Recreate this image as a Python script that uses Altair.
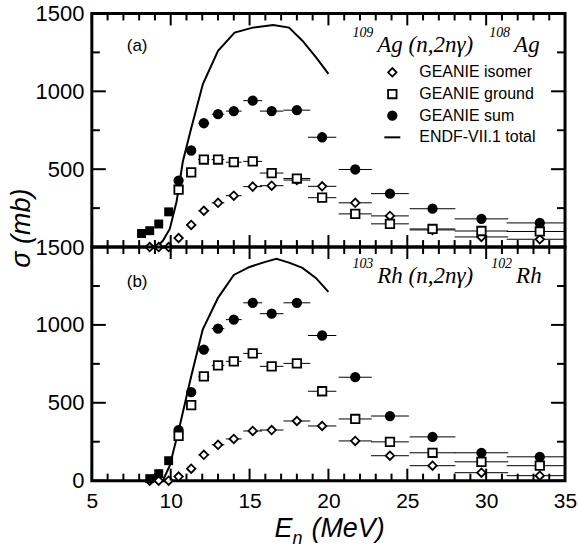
import altair as alt
import pandas as pd

# ---------------- data ----------------
# neutron energy bins (MeV): centres and half widths
energy = [10.5, 11.3, 12.1, 13.0, 14.0, 15.2, 16.4, 18.0, 19.6, 21.7, 23.9, 26.6, 29.7, 33.4]
half_width = [0.25, 0.3, 0.35, 0.4, 0.5, 0.6, 0.75, 0.85, 0.9, 1.05, 1.2, 1.45, 1.7, 2.1]

# 109Ag(n,2n gamma)108Ag partial cross sections (mb)
ag_isomer = [58, 142, 233, 284, 330, 388, 394, 430, 390, 284, 200, 110, 65, 50]
ag_ground = [368, 480, 562, 562, 545, 550, 475, 440, 317, 213, 149, 116, 103, 100]
ag_sum = [427, 620, 795, 853, 873, 940, 873, 879, 705, 498, 343, 246, 181, 155]
ag_low_energy = [8.15, 8.67, 9.24, 9.87]
ag_low_sigma = [87, 105, 148, 226]
ag_iso_low_energy = [8.67, 9.24, 9.87]
ag_iso_low_sigma = [0, 0, 0]
ag_endf_energy = [9.1, 9.5, 9.94, 10.37, 10.77, 11.3, 12.04, 13.0, 14.05, 15.2, 16.5, 17.5, 18.35, 19.24, 20.0]
ag_endf_sigma = [0, 40, 116, 291, 549, 763, 1047, 1260, 1377, 1409, 1425, 1409, 1325, 1215, 1112]

# 103Rh(n,2n gamma)102Rh partial cross sections (mb)
rh_isomer = [26, 77, 166, 230, 268, 319, 325, 383, 351, 255, 160, 96, 51, 32]
rh_ground = [287, 485, 670, 740, 766, 817, 734, 753, 574, 396, 249, 179, 121, 96]
rh_sum = [325, 568, 842, 976, 1034, 1142, 1072, 1142, 932, 664, 415, 281, 179, 153]
rh_low_energy = [8.67, 9.24, 9.87]
rh_low_sigma = [13, 45, 128]
rh_iso_low_energy = [8.67, 9.24, 9.87]
rh_iso_low_sigma = [0, 0, 0]
rh_endf_energy = [9.5, 9.94, 10.57, 11.3, 12.03, 13.0, 14.0, 15.0, 16.0, 16.7, 17.5, 18.35, 19.2, 20.0]
rh_endf_sigma = [0, 96, 351, 670, 970, 1174, 1321, 1372, 1405, 1425, 1400, 1366, 1302, 1212]

series_names = ["GEANIE isomer", "GEANIE ground", "GEANIE sum", "ENDF-VII.1 total"]

x_major_ticks = [5, 10, 15, 20, 25, 30, 35]
x_minor_ticks = [6, 7, 8, 9, 11, 12, 13, 14, 16, 17, 18, 19, 21, 22, 23, 24,
                 26, 27, 28, 29, 31, 32, 33, 34]
y_major_ticks = [0, 500, 1000, 1500]
y_minor_ticks = [250, 750, 1250]

# ---------------- layout ----------------
W = 474
H = 234
LEFT = 90   # room for the y labels and the sigma title
TOP = 11
SANS = "Liberation Sans"
SERIF = "Liberation Serif"
MARK_SIZE = 72

# marker style of each series
marker = {
    "GEANIE isomer": dict(shape="diamond", fill="white"),
    "GEANIE ground": dict(shape="square", fill="white"),
    "GEANIE sum": dict(shape="circle", fill="black"),
}

x_scale = alt.Scale(domain=[5, 35], nice=False, zero=False)
y_scale = alt.Scale(domain=[0, 1500], nice=False, zero=True)


def xenc(field, show_labels):
    if show_labels:
        ax = alt.Axis(title=None, values=x_major_ticks, ticks=False, tickSize=0, domain=False,
                      grid=False, labelFont=SANS, labelFontSize=21, labelColor="black",
                      labelPadding=10, labelFlush=False, format="d")
    else:
        ax = None
    return alt.X(field, type="quantitative", scale=x_scale, axis=ax)


def yenc(field, label_values):
    ax = alt.Axis(title=None, values=label_values, ticks=False, tickSize=0, domain=False,
                  grid=False, labelFont=SANS, labelFontSize=22, labelColor="black",
                  labelPadding=8, labelFlush=False, format="d")
    return alt.Y(field, type="quantitative", scale=y_scale, axis=ax)


def one_row():
    return pd.DataFrame({"k": [0]})


def text_layer(txt, x, y, size, font=SANS, style="normal", align="left",
               baseline="alphabetic", angle=0):
    return alt.Chart(pd.DataFrame({"t": [txt]})).mark_text(
        font=font, fontSize=size, fontStyle=style, align=align, baseline=baseline,
        angle=angle, color="black"
    ).encode(text="t:N", x=alt.value(x), y=alt.value(y))


def legend_layers(x_sym, x_text, y_first, row_step):
    out = []
    for i, name in enumerate(series_names):
        y = y_first + i * row_step
        if name in marker:
            m = marker[name]
            out.append(alt.Chart(one_row()).mark_point(
                shape=m["shape"], size=MARK_SIZE, fill=m["fill"], stroke="black",
                strokeWidth=1.8, opacity=1, fillOpacity=1
            ).encode(x=alt.value(x_sym), y=alt.value(y)))
        else:
            out.append(alt.Chart(one_row()).mark_rule(color="black", strokeWidth=2).encode(
                x=alt.value(x_sym - 8), x2=alt.value(x_sym + 8), y=alt.value(y)))
        out.append(text_layer(name, x_text, y, 16, baseline="middle"))
    return out


def panel(iso, gnd, tot, low_e, low_s, iso_low_e, iso_low_s, endf_e, endf_s,
          y_labels, show_x_labels, annotations):
    X = lambda f: xenc(f, show_x_labels)
    Y = lambda f: yenc(f, y_labels)
    values = {"GEANIE isomer": iso, "GEANIE ground": gnd, "GEANIE sum": tot}

    # horizontal error bars (energy bin widths)
    bars = []
    for name in ["GEANIE isomer", "GEANIE sum", "GEANIE ground"]:
        for e, hw, s in zip(energy, half_width, values[name]):
            bars.append({"lo": e - hw, "hi": e + hw, "sigma": s})
    bars = pd.DataFrame(bars)

    layers = [
        alt.Chart(bars).mark_rule(color="black", strokeWidth=1, clip=True).encode(
            x=X("lo"), x2="hi", y=Y("sigma")),
        alt.Chart(pd.DataFrame({"E": endf_e, "sigma": endf_s})).mark_line(
            color="black", strokeWidth=2).encode(x=X("E"), y=Y("sigma")),
    ]

    # data points: isomer first, then sum, ground on top
    for name in ["GEANIE isomer", "GEANIE sum", "GEANIE ground"]:
        e_list = list(energy)
        s_list = list(values[name])
        if name == "GEANIE isomer":
            e_list = list(iso_low_e) + e_list
            s_list = list(iso_low_s) + s_list
        m = marker[name]
        layers.append(alt.Chart(pd.DataFrame({"E": e_list, "sigma": s_list})).mark_point(
            shape=m["shape"], size=MARK_SIZE, fill=m["fill"], stroke="black",
            strokeWidth=1.8, opacity=1, fillOpacity=1
        ).encode(x=X("E"), y=Y("sigma")))

    # low-energy points shown as filled squares
    layers.append(alt.Chart(pd.DataFrame({"E": low_e, "sigma": low_s})).mark_square(
        size=80, color="black", opacity=1).encode(x=X("E"), y=Y("sigma")))

    # inward tick marks on all four sides
    xt_major = pd.DataFrame({"t": x_major_ticks})
    xt_minor = pd.DataFrame({"t": x_minor_ticks})
    yt_major = pd.DataFrame({"t": y_major_ticks})
    yt_minor = pd.DataFrame({"t": y_minor_ticks})
    tick = dict(color="black", strokeWidth=2)
    for df, ln in [(xt_major, 12), (xt_minor, 7)]:
        layers.append(alt.Chart(df).mark_rule(**tick).encode(
            x=X("t"), y=alt.value(H), y2=alt.value(H - ln)))
        layers.append(alt.Chart(df).mark_rule(**tick).encode(
            x=X("t"), y=alt.value(0), y2=alt.value(ln)))
    for df, ln in [(yt_major, 14), (yt_minor, 8)]:
        layers.append(alt.Chart(df).mark_rule(**tick).encode(
            y=Y("t"), x=alt.value(0), x2=alt.value(ln)))
        layers.append(alt.Chart(df).mark_rule(**tick).encode(
            y=Y("t"), x=alt.value(W), x2=alt.value(W - ln)))

    layers += annotations
    return alt.layer(*layers).properties(width=W, height=H)


# an invisible anchor fixes the top-left corner of the drawing
anchor = alt.Chart(one_row()).mark_rule(opacity=0, strokeWidth=1, color="white").encode(
    x=alt.value(-LEFT), x2=alt.value(-LEFT + 1), y=alt.value(-TOP), y2=alt.value(-TOP + 1))

top_notes = [
    anchor,
    text_layer("(a)", 35, 38, 17),
    text_layer("109", 261, 24, 14, font=SERIF, style="italic"),
    text_layer("Ag (n,2nγ)", 286, 39, 23, font=SERIF, style="italic"),
    text_layer("108", 398, 24, 14, font=SERIF, style="italic"),
    text_layer("Ag", 423, 39, 23, font=SERIF, style="italic"),
    text_layer("σ (mb)", -70, 215, 27, style="italic", align="center",
               baseline="middle", angle=270),
] + legend_layers(301, 328, 59, 21.7)

bottom_notes = [
    text_layer("(b)", 35, 40, 17),
    text_layer("103", 261, 21, 14, font=SERIF, style="italic"),
    text_layer("Rh (n,2nγ)", 286, 36, 23, font=SERIF, style="italic"),
    text_layer("102", 400, 21, 14, font=SERIF, style="italic"),
    text_layer("Rh", 425, 36, 23, font=SERIF, style="italic"),
    text_layer("E", 183, 290, 27, style="italic"),
    text_layer("n", 201, 297, 18, style="italic"),
    text_layer("(MeV)", 220, 290, 27, style="italic"),
]

top = panel(ag_isomer, ag_ground, ag_sum, ag_low_energy, ag_low_sigma,
            ag_iso_low_energy, ag_iso_low_sigma, ag_endf_energy, ag_endf_sigma,
            [500, 1000, 1500], False, top_notes)
bottom = panel(rh_isomer, rh_ground, rh_sum, rh_low_energy, rh_low_sigma,
               rh_iso_low_energy, rh_iso_low_sigma, rh_endf_energy, rh_endf_sigma,
               [0, 500, 1000, 1500], True, bottom_notes)

chart = alt.vconcat(top, bottom, spacing=0, bounds="flush").properties(
    padding=0,
    background="white",
).configure(
    font=SANS,
    view=alt.ViewConfig(stroke="black", strokeWidth=3),
)

chart.save("out.html", embed_options={"renderer": "svg", "actions": False})
